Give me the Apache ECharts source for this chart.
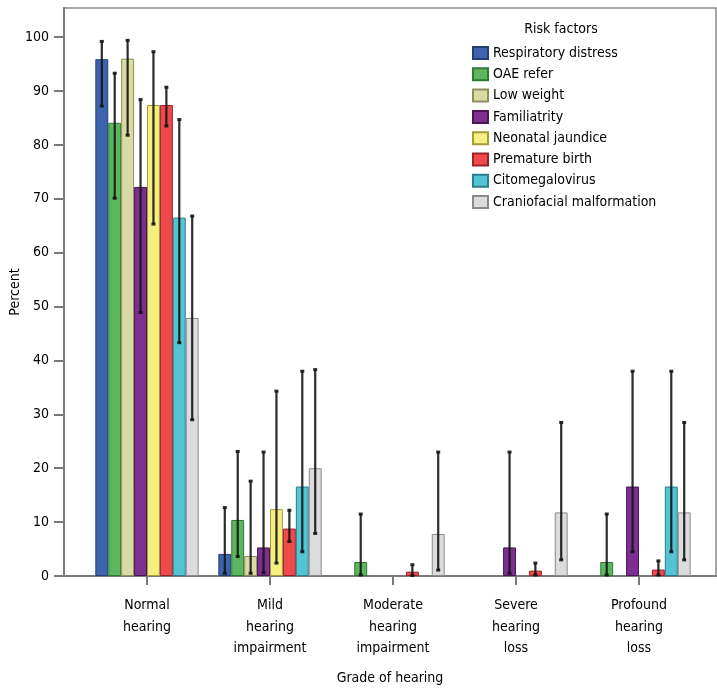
<!DOCTYPE html>
<html>
<head>
<meta charset="utf-8">
<script src="https://cdn.jsdelivr.net/npm/echarts@6/dist/echarts.min.js"></script>
<style>
  html, body { margin: 0; padding: 0; background: #fff; }
  #chart { width: 717px; height: 689px; }
</style>
</head>
<body>
<div id="chart"></div>
<script>
// Grades of hearing (x categories)
const categories = ['Normal\nhearing', 'Mild\nhearing\nimpairment', 'Moderate\nhearing\nimpairment', 'Severe\nhearing\nloss', 'Profound\nhearing\nloss'];
const riskFactors = ['Respiratory distress', 'OAE refer', 'Low weight', 'Familiatrity', 'Neonatal jaundice', 'Premature birth', 'Citomegalovirus', 'Craniofacial malformation'];
const yTicks = [0, 10, 20, 30, 40, 50, 60, 70, 80, 90, 100];

// Percent per grade, one array per risk factor
const respiratoryDistress = [95.9, 4.1, 0, 0, 0];
const oaeRefer            = [84.1, 10.4, 2.6, 0, 2.6];
const lowWeight           = [96.0, 3.7, 0, 0, 0];
const familiatrity        = [72.2, 5.3, 0, 5.3, 16.6];
const neonatalJaundice    = [87.4, 12.4, 0, 0, 0];
const prematureBirth      = [87.4, 8.8, 0.8, 1.0, 1.2];
const citomegalovirus     = [66.5, 16.6, 0, 0, 16.6];
const craniofacial        = [47.9, 20.0, 7.8, 11.8, 11.8];

// Confidence interval bounds (lower, upper); null where no interval is drawn
const respiratoryLow  = [87.2, 0.5, null, null, null];
const respiratoryHigh = [99.2, 12.7, null, null, null];
const oaeLow          = [70.1, 3.6, 0.2, null, 0.2];
const oaeHigh         = [93.3, 23.1, 11.5, null, 11.5];
const lowWeightLow    = [81.8, 0.5, null, null, null];
const lowWeightHigh   = [99.4, 17.6, null, null, null];
const familiatrityLow = [48.9, 0.6, null, 0.5, 4.5];
const familiatrityHigh= [88.4, 23.0, null, 23.0, 38.0];
const jaundiceLow     = [65.3, 2.4, null, null, null];
const jaundiceHigh    = [97.3, 34.3, null, null, null];
const prematureLow    = [83.5, 6.4, 0.1, 0.2, 0.2];
const prematureHigh   = [90.7, 12.2, 2.1, 2.4, 2.8];
const citoLow         = [43.3, 4.5, null, null, 4.5];
const citoHigh        = [84.7, 38.0, null, null, 38.0];
const cranioLow       = [29.0, 7.9, 1.1, 3.0, 3.0];
const cranioHigh      = [66.8, 38.3, 23.0, 28.5, 28.5];

const values = [respiratoryDistress, oaeRefer, lowWeight, familiatrity, neonatalJaundice, prematureBirth, citomegalovirus, craniofacial];
const lows   = [respiratoryLow, oaeLow, lowWeightLow, familiatrityLow, jaundiceLow, prematureLow, citoLow, cranioLow];
const highs  = [respiratoryHigh, oaeHigh, lowWeightHigh, familiatrityHigh, jaundiceHigh, prematureHigh, citoHigh, cranioHigh];

const fills   = ['#3d63ad', '#5cb65e', '#d9daa4', '#7d2f90', '#f5ee80', '#ee4a4c', '#52c4d3', '#dcdcde'];
const strokes = ['#233f78', '#2f7a35', '#8e8f5c', '#4a1457', '#a59d3c', '#9c2228', '#2a7f8b', '#8a8a8e'];

const FONT = "'Liberation Sans Narrow', 'DejaVu Sans Condensed', 'Arial Narrow', sans-serif";
const GAP = 0.16;
const N = riskFactors.length;

// Zero percentages are left empty so no flat bar is drawn on the baseline
const barSeries = riskFactors.map((name, i) => ({
  name,
  type: 'bar',
  xAxisIndex: 1,
  yAxisIndex: 1,
  barGap: '0%',
  barCategoryGap: (GAP * 100) + '%',
  data: values[i].map(v => (v === 0 ? '-' : v)),
  itemStyle: { color: fills[i], borderColor: strokes[i], borderWidth: 1 },
  z: 2
}));

const errData = [];
for (let s = 0; s < N; s++) {
  for (let c = 0; c < categories.length; c++) {
    if (lows[s][c] != null && highs[s][c] != null) errData.push([c, lows[s][c], highs[s][c], s]);
  }
}

const errorSeries = {
  type: 'custom',
  xAxisIndex: 1,
  yAxisIndex: 1,
  z: 5,
  data: errData,
  encode: { x: 0, y: [1, 2] },
  renderItem(params, api) {
    const c = api.value(0), lo = api.value(1), hi = api.value(2), s = api.value(3);
    const band = api.size([1, 0])[0];
    const bw = band * (1 - GAP) / N;
    const x = api.coord([c, 0])[0] + (s - (N - 1) / 2) * bw;
    const yLo = api.coord([c, lo])[1];
    const yHi = api.coord([c, hi])[1];
    const st = { stroke: 'rgba(20,20,20,0.9)', lineWidth: 2.2 };
    const cap = { stroke: 'rgba(20,20,20,0.9)', lineWidth: 3 };
    return {
      type: 'group',
      children: [
        { type: 'line', shape: { x1: x, y1: yLo, x2: x, y2: yHi }, style: st },
        { type: 'line', shape: { x1: x - 2, y1: yHi, x2: x + 2, y2: yHi }, style: cap },
        { type: 'line', shape: { x1: x - 2, y1: yLo, x2: x + 2, y2: yLo }, style: cap }
      ]
    };
  }
};

const chart = echarts.init(document.getElementById('chart'));
chart.setOption({
  backgroundColor: '#fff',
  animation: false,
  textStyle: { fontFamily: FONT },
  title: {
    text: 'Risk factors',
    left: 556, top: 17,
    textAlign: 'center',
    textStyle: { fontFamily: FONT, fontSize: 14, fontWeight: 'normal', color: '#000' }
  },
  legend: {
    orient: 'vertical',
    left: 472, top: 45,
    padding: 0,
    itemWidth: 15, itemHeight: 12,
    itemGap: 5.3,
    icon: 'rect',
    data: riskFactors,
    textStyle: { fontFamily: FONT, fontSize: 14, color: '#000', lineHeight: 16 }
  },
  grid: [
    { left: 64, right: 1, top: 8, bottom: 113, outerBoundsMode: 'none', containLabel: false,
      show: true, borderColor: '#8a8a8a', borderWidth: 1.5, backgroundColor: 'transparent' },
    { left: 85.5, right: 16.5, top: 8, bottom: 113, outerBoundsMode: 'none', containLabel: false }
  ],
  xAxis: [
    {
      gridIndex: 0, type: 'value', min: 0, max: 1,
      axisLine: { show: true, lineStyle: { color: '#7a7a7a', width: 2 } },
      axisTick: { show: false }, axisLabel: { show: false }, splitLine: { show: false },
      name: 'Grade of hearing', nameLocation: 'middle', nameGap: 95, nameMoveOverlap: false,
      nameTextStyle: { fontFamily: FONT, fontSize: 14, color: '#000' }
    },
    {
      gridIndex: 1, type: 'category', data: categories,
      axisLine: { show: false },
      axisTick: { show: true, alignWithLabel: true, length: 9, lineStyle: { color: '#7a7a7a', width: 2 } },
      axisLabel: { fontFamily: FONT, fontSize: 14, color: '#000', lineHeight: 21.5, margin: 19, interval: 0 }
    }
  ],
  yAxis: [
    {
      gridIndex: 0, type: 'value', min: 0, max: 105.4,
      axisLine: { show: true, lineStyle: { color: '#7a7a7a', width: 2 } },
      axisTick: { show: true, length: 10, customValues: yTicks, lineStyle: { color: '#7a7a7a', width: 2 } },
      axisLabel: { customValues: yTicks, fontFamily: FONT, fontSize: 14, color: '#000', margin: 15 },
      splitLine: { show: false },
      name: 'Percent', nameLocation: 'middle', nameGap: 42, nameMoveOverlap: false,
      nameTextStyle: { fontFamily: FONT, fontSize: 14, color: '#000' }
    },
    {
      gridIndex: 1, type: 'value', min: 0, max: 105.4, show: false
    }
  ],
  series: [...barSeries, errorSeries]
});
</script>
</body>
</html>
